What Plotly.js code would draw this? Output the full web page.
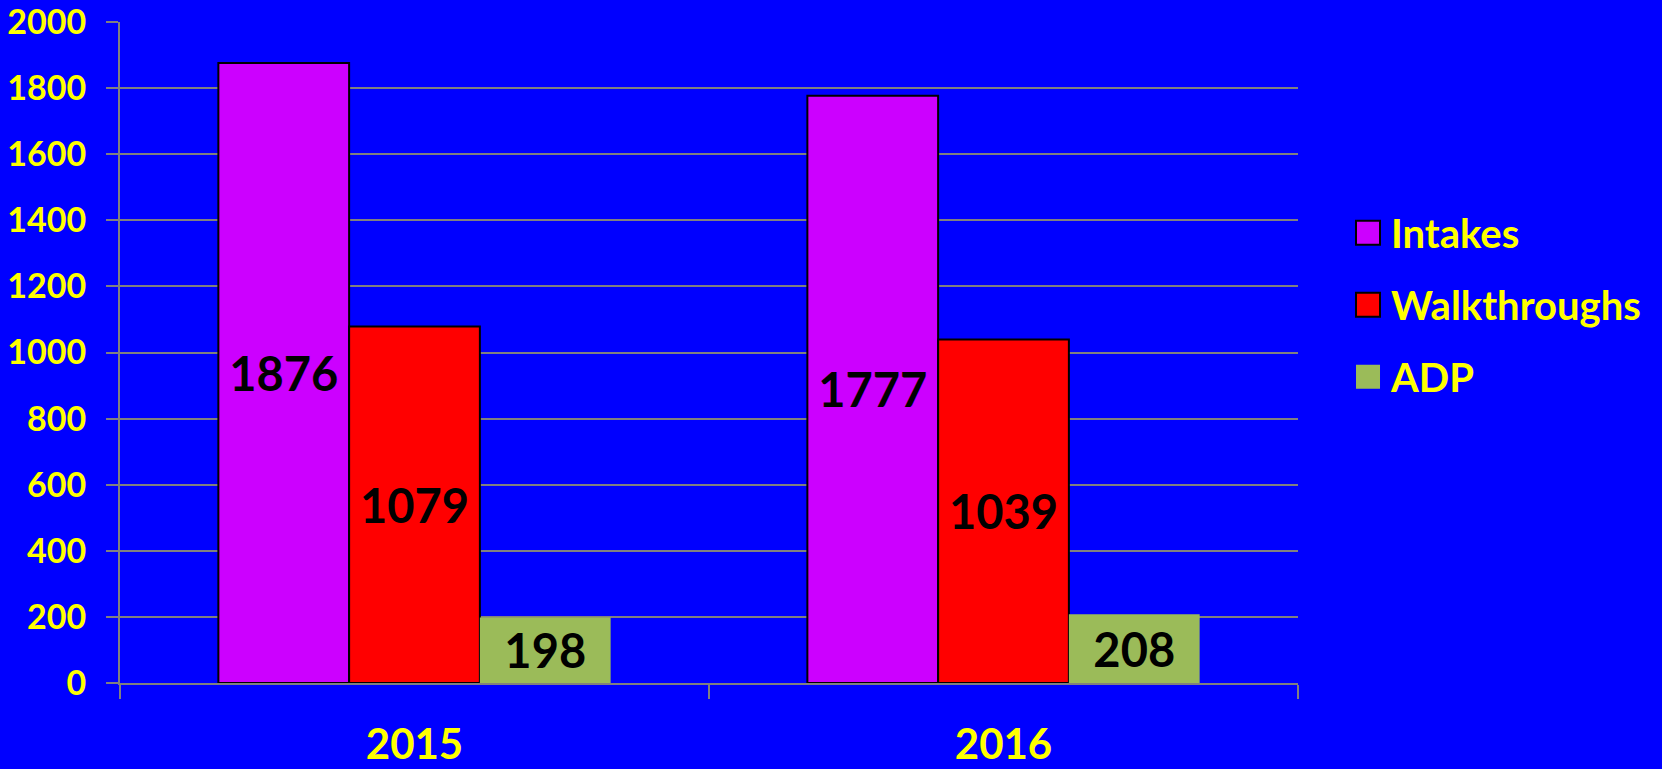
<!DOCTYPE html>
<html>
<head>
<meta charset="utf-8">
<script src="https://cdn.plot.ly/plotly-3.0.1.min.js"></script>
<style>
  html, body { margin: 0; padding: 0; background: #0000FF; }
  #chart { width: 1662px; height: 769px; }
</style>
</head>
<body>
<div id="chart"></div>
<script>
const years = ['2015', '2016'];
const seriesNames = ['Intakes', 'Walkthroughs', 'ADP'];
const intakes = [1876, 1777];
const walkthroughs = [1079, 1039];
const adp = [198, 208];
const yTicks = [0, 200, 400, 600, 800, 1000, 1200, 1400, 1600, 1800, 2000];

const colors = ['#CC00FF', '#FF0000', '#9BBB59'];
const lineWidths = [2, 2, 0];
const values = [intakes, walkthroughs, adp];
const FONT = 'Lato, "Open Sans", sans-serif';

const traces = values.map((v, i) => ({
  type: 'bar',
  name: seriesNames[i],
  legendgroup: 'g' + i,
  x: years,
  y: v,
  text: v.map(String),
  textposition: 'inside',
  insidetextanchor: 'middle',
  constraintext: 'none',
  textfont: { family: FONT, size: 47, color: '#000000', weight: 700 },
  marker: { color: colors[i], line: { color: '#000000', width: lineWidths[i] } },
  hoverinfo: 'none'
}));

const layout = {
  width: 1662,
  height: 769,
  paper_bgcolor: '#0000FF',
  plot_bgcolor: '#0000FF',
  margin: { l: 120, r: 364, t: 22, b: 86, pad: 0 },
  barmode: 'group',
  bargap: 0.334,
  bargroupgap: 0,
  showlegend: true,
  legend: {
    x: 1.045, xanchor: 'left',
    y: 0.7305, yanchor: 'top',
    traceorder: 'grouped',
    tracegroupgap: 17,
    bgcolor: 'rgba(0,0,0,0)',
    font: { family: FONT, size: 40, color: '#FFFF00', weight: 700 }
  },
  xaxis: {
    type: 'category',
    tickson: 'boundaries',
    ticks: 'outside',
    ticklen: 14,
    tickwidth: 2,
    tickcolor: '#808080',
    showline: true,
    linecolor: '#808080',
    linewidth: 2,
    showgrid: false,
    ticklabelstandoff: 24,
    ticklabeloverflow: 'allow',
    tickfont: { family: FONT, size: 42, color: '#FFFF00', weight: 700 }
  },
  yaxis: {
    range: [0, 2000],
    tickvals: yTicks,
    ticktext: yTicks.map(String),
    ticks: 'outside',
    ticklen: 12,
    tickwidth: 2,
    tickcolor: '#808080',
    showline: true,
    linecolor: '#808080',
    linewidth: 2,
    showgrid: true,
    gridcolor: '#808080',
    gridwidth: 2,
    zeroline: false,
    ticklabelstandoff: 13,
    ticklabeloverflow: 'allow',
    tickfont: { family: FONT, size: 34, color: '#FFFF00', weight: 700 }
  }
};

function enlargeSwatches() {
  document.querySelectorAll('#chart .legend .legendpoints path').forEach(p => {
    p.setAttribute('d', 'M29,12H5V-12H29Z');
    p.removeAttribute('transform');
  });
}

Plotly.newPlot('chart', traces, layout, { displayModeBar: false, staticPlot: true }).then(() => {
  enlargeSwatches();
  setTimeout(enlargeSwatches, 0);
  setTimeout(enlargeSwatches, 100);
});
</script>
</body>
</html>
